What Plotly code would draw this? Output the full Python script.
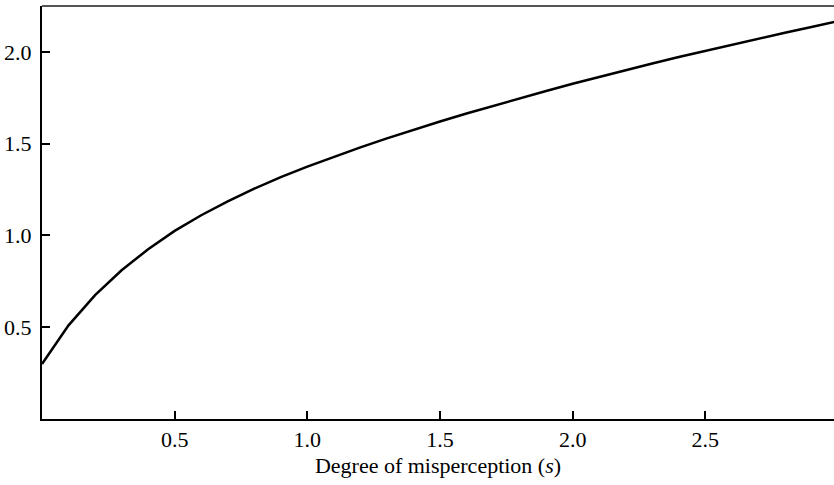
import plotly.graph_objects as go

s_values = [0.0, 0.1, 0.2, 0.3, 0.4, 0.5, 0.6, 0.7, 0.8, 0.9, 1.0,
            1.1, 1.2, 1.3, 1.4, 1.5, 1.6, 1.7, 1.8, 1.9, 2.0,
            2.1, 2.2, 2.3, 2.4, 2.5, 2.6, 2.7, 2.8, 2.9, 3.0]
y_values = [0.300, 0.510, 0.675, 0.810, 0.925, 1.025, 1.110, 1.185, 1.255, 1.318, 1.375,
            1.429, 1.480, 1.529, 1.576, 1.621, 1.664, 1.706, 1.747, 1.787, 1.826,
            1.864, 1.901, 1.937, 1.972, 2.006, 2.039, 2.072, 2.104, 2.136, 2.167]

x_ticks = [0.5, 1.0, 1.5, 2.0, 2.5]
x_tick_labels = ["0.5", "1.0", "1.5", "2.0", "2.5"]
y_ticks = [0.5, 1.0, 1.5, 2.0]
y_tick_labels = ["0.5", "1.0", "1.5", "2.0"]

x_title = "Degree of misperception (<i>s</i>)"

font_family = "Liberation Serif, Times New Roman, serif"

fig = go.Figure()
fig.add_trace(go.Scatter(x=s_values, y=y_values, mode="lines",
                         line=dict(color="black", width=2.5),
                         showlegend=False, hoverinfo="skip"))

fig.update_layout(
    width=834, height=485,
    margin=dict(l=42, r=0, t=6, b=66),
    paper_bgcolor="white", plot_bgcolor="white",
    font=dict(family=font_family, size=22, color="black"),
    xaxis=dict(range=[0, 2.985], tickvals=x_ticks, ticktext=x_tick_labels,
               ticks="inside", ticklen=8, tickwidth=1.5, tickcolor="black",
               showline=True, linecolor="black", linewidth=2,
               showgrid=False, zeroline=False,
               tickfont=dict(family=font_family, size=22),
               title=dict(text=x_title, font=dict(family=font_family, size=22), standoff=6)),
    yaxis=dict(range=[0, 2.25], tickvals=y_ticks, ticktext=y_tick_labels,
               ticks="inside", ticklen=8, tickwidth=1.5, tickcolor="black",
               showline=True, linecolor="black", linewidth=2,
               showgrid=False, zeroline=False, ticklabelstandoff=4,
               tickfont=dict(family=font_family, size=22)),
)

fig.add_shape(type="line", xref="paper", yref="paper", x0=0, x1=1, y0=1, y1=1,
              line=dict(color="#555555", width=2))

fig.write_html("out.html")
